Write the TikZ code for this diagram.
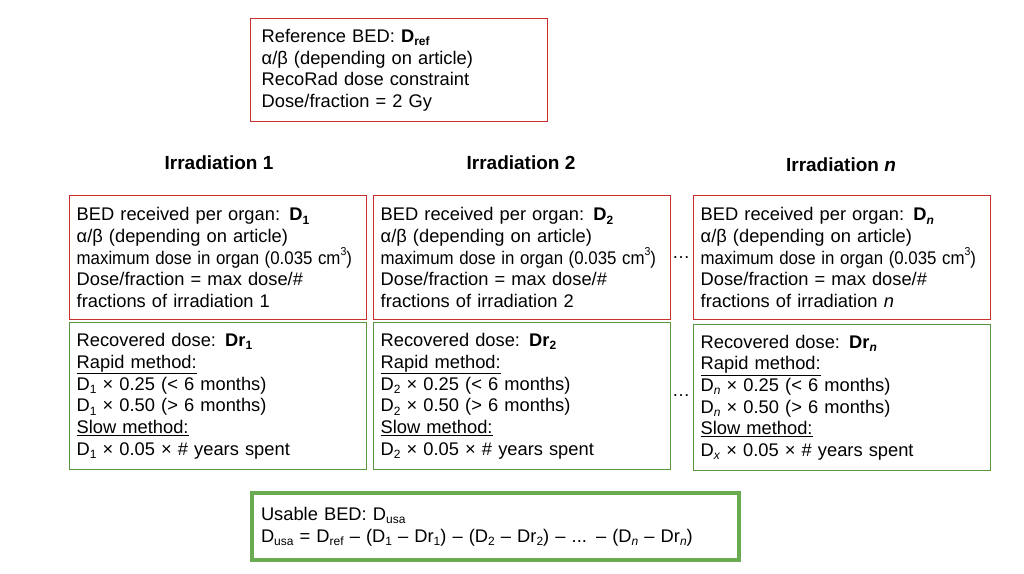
\documentclass[tikz,border=0pt]{standalone}
\usepackage{fontspec}
\setmainfont{Liberation Sans}
\definecolor{boxred}{RGB}{200,48,48}
\definecolor{boxgreen}{RGB}{88,150,66}
\definecolor{thickgreen}{RGB}{106,170,80}
\newcommand{\dsub}[1]{\raisebox{-0.18em}{\fontsize{12}{12}\selectfont #1}}
\newcommand{\cmsup}[1]{\raisebox{0.5em}{\fontsize{11.5}{11.5}\selectfont #1}}
\begin{document}
\begin{tikzpicture}[x=1pt,y=-1pt,
  box/.style={draw, line width=1.4pt, anchor=north west, align=left,
    inner xsep=7pt, inner ysep=0pt, text width=283pt,
    font=\fontsize{18.3}{21.7}\selectfont},
  redbox/.style={box, draw=boxred},
  greenbox/.style={box, draw=boxgreen},
  head/.style={font=\fontsize{19}{21}\selectfont\bfseries},
  dots/.style={font=\fontsize{18}{21}\selectfont}]
\useasboundingbox (0,0) rectangle (1024,573);

\node[redbox, minimum height=103pt, inner xsep=11pt, text width=275pt] (ref) at (250,18)
 {Reference BED: \textbf{D\dsub{ref}}\\
  α/β (depending on article)\\
  RecoRad dose constraint\\
  Dose/fraction = 2 Gy};

\node[head] (h1) at (219,163) {Irradiation 1};
\node[head] (h2) at (521,163) {Irradiation 2};
\node[head] (h3) at (841,165) {Irradiation \textit{n}};

\node[redbox, minimum height=124pt] (r1) at (69,195)
 {BED received per organ: \textbf{D\dsub{1}}\\
  α/β (depending on article)\\
  \scalebox{0.92}[1]{maximum dose in organ (0.035 cm\cmsup{3})}\\
  Dose/fraction = max dose/\#\\
  fractions of irradiation 1};
\node[redbox, minimum height=124pt] (r2) at (373,195)
 {BED received per organ: \textbf{D\dsub{2}}\\
  α/β (depending on article)\\
  \scalebox{0.92}[1]{maximum dose in organ (0.035 cm\cmsup{3})}\\
  Dose/fraction = max dose/\#\\
  fractions of irradiation 2};
\node[redbox, minimum height=124pt] (r3) at (693,195)
 {BED received per organ: \textbf{D\dsub{\textit{n}}}\\
  α/β (depending on article)\\
  \scalebox{0.92}[1]{maximum dose in organ (0.035 cm\cmsup{3})}\\
  Dose/fraction = max dose/\#\\
  fractions of irradiation \textit{n}};

\node[greenbox, minimum height=147pt] (g1) at (69,322)
 {Recovered dose: \textbf{Dr\dsub{1}}\\
  \underline{Rapid method:}\\
  D\dsub{1} × 0.25 (< 6 months)\\
  D\dsub{1} × 0.50 (> 6 months)\\
  \underline{Slow method:}\\
  D\dsub{1} × 0.05 × \# years spent};
\node[greenbox, minimum height=147pt] (g2) at (373,322)
 {Recovered dose: \textbf{Dr\dsub{2}}\\
  \underline{Rapid method:}\\
  D\dsub{2} × 0.25 (< 6 months)\\
  D\dsub{2} × 0.50 (> 6 months)\\
  \underline{Slow method:}\\
  D\dsub{2} × 0.05 × \# years spent};
\node[greenbox, minimum height=146pt] (g3) at (693,324)
 {Recovered dose: \textbf{Dr\dsub{\textit{n}}}\\
  \underline{Rapid method:}\\
  D\dsub{\textit{n}} × 0.25 (< 6 months)\\
  D\dsub{\textit{n}} × 0.50 (> 6 months)\\
  \underline{Slow method:}\\
  D\dsub{\textit{x}} × 0.05 × \# years spent};

\node[dots] (d1) at (681,258) {…};
\node[dots] (d2) at (681,396) {…};

\node[box, draw=thickgreen, line width=4pt, inner xsep=9pt, text width=469pt, minimum height=67pt] (usa) at (250,491)
 {Usable BED: D\dsub{usa}\\
  D\dsub{usa} = D\dsub{ref} – (D\dsub{1} – Dr\dsub{1}) – (D\dsub{2} – Dr\dsub{2}) – ... – (D\dsub{\textit{n}} – Dr\dsub{\textit{n}})};
\end{tikzpicture}
\end{document}
